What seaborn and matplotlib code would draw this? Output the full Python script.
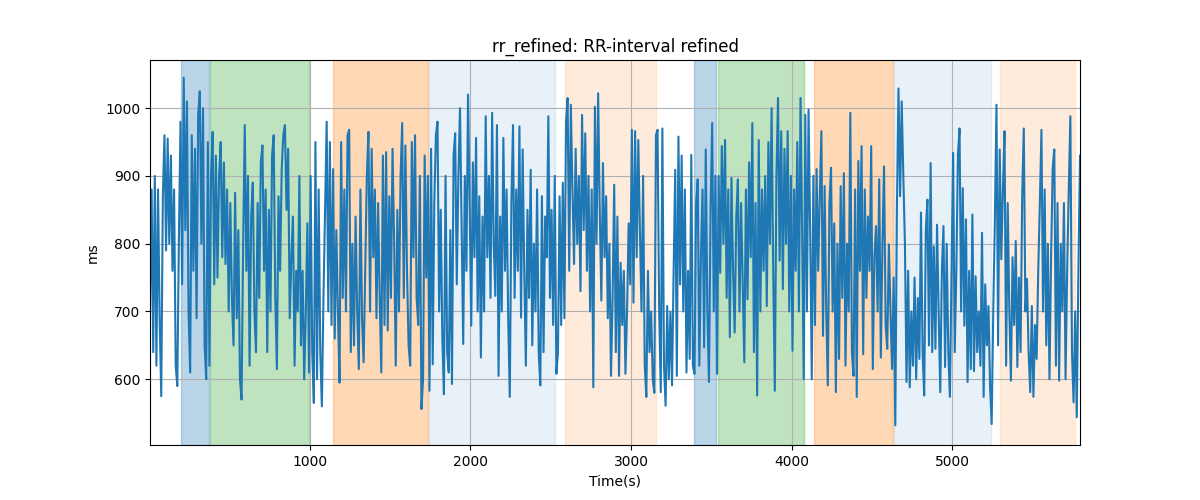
import numpy as np
import pandas as pd
import matplotlib
matplotlib.use('Agg')
import matplotlib.pyplot as plt
import seaborn as sns

rr_a = [700, 880, 640, 900, 620, 880, 690, 575, 870, 960, 790, 955, 800, 930, 760, 880, 620, 590, 810]
rr_b = [980, 740, 1045, 820, 1010, 700, 610, 960, 760, 940, 690, 990, 1025, 800, 1000, 650, 600, 950, 620]
rr_c = [900, 965, 740, 930, 750, 900, 950, 780, 920, 770, 880, 700, 860, 720, 650, 875, 690, 820, 600, 570,
        800, 975, 760, 900, 620, 840, 890, 700, 640, 860, 720, 920, 945, 760, 880, 640, 850, 700, 930, 960,
        720, 615, 870, 760, 910]
rr_d = [960, 975, 850, 940, 690, 780, 840, 620, 760, 700, 900, 650, 760, 600, 700, 830, 610]
rr_e = [900, 640, 565, 950, 600, 880, 640, 560, 720, 850, 980, 700, 950, 680]
rr_f = [910, 660, 820, 700, 595, 950, 720, 880, 700, 960, 968, 640, 800, 650, 840, 700, 615, 880, 690, 625,
        760, 900, 965, 700, 940, 780, 880, 690, 860, 720, 610, 930, 680, 935, 672, 870, 720, 940, 800, 620,
        850, 700, 900, 978, 720, 945, 760, 650, 620, 950, 780, 960, 720]
rr_g = [680, 900, 556, 600, 930, 750, 900]
rr_h = [583, 940, 622, 860, 960, 980, 700, 850, 660, 578, 900, 640, 610, 820, 593, 930, 963, 740, 900, 1000,
        820, 652, 900, 760, 1020, 860, 679, 920, 780, 956, 700, 870, 632, 840, 700, 988, 780, 900, 720, 993,
        800, 723, 975, 605, 840, 700, 956, 760, 880, 690, 574, 860, 975, 720, 880, 760, 973, 691, 939, 760,
        620, 850, 720, 909, 650, 800, 700, 880, 640, 591, 870, 640, 840, 780, 988, 720, 850]
rr_i = [680, 900, 608, 640, 870, 680, 890, 690]
rr_j = [980, 1015, 760, 1005, 880, 770, 940, 800, 900, 730, 990, 820, 963, 760, 900, 700, 880, 588, 1002, 800,
        1022, 850, 716, 919, 780, 870, 690, 800, 605, 720, 887, 640, 840, 605, 772, 680, 760, 608, 700, 830,
        740, 968, 713, 966, 780, 953, 820, 700, 900, 622, 574, 760, 640, 700, 600, 580, 960]
rr_k = [968, 700, 581, 970, 620, 561, 708, 600, 700, 591, 760, 909, 605, 958, 740, 930, 700, 880, 610, 760, 630]
rr_l = [931, 620, 608, 860, 895, 620, 780, 880, 647, 939, 700, 596, 850, 978, 700, 900, 608]
rr_m = [900, 757, 944, 800, 953, 720, 880, 662, 897, 760, 669, 840, 895, 700, 860, 740, 625, 880, 718, 920,
        780, 978, 640, 860, 576, 953, 700, 880, 760, 900, 708, 950, 800, 1000, 760, 583, 900, 1015, 775, 966,
        733, 940, 800, 966, 700, 900, 642, 880, 760, 950, 700, 1015, 820, 600]
rr_n = [990, 700, 998, 820, 600, 900, 680, 910, 760, 870]
rr_o = [966, 664, 885, 700, 591, 860, 912, 700, 830, 581, 800, 630, 885, 720, 904, 620, 800, 700, 993, 640,
        605, 880, 574, 922, 760, 944, 637, 880, 720, 840, 760, 944, 615, 780, 826, 700, 895, 632, 800, 914,
        680, 645, 799, 700, 615, 750, 532]
rr_p = [850, 1029, 870, 1010, 900, 800, 596, 760, 588, 700, 620, 750, 600, 720, 630, 846, 640, 576, 820, 865,
        650, 919, 640, 796, 645, 828, 700, 581, 760, 826, 618, 800, 640, 574, 760, 934, 640]
rr_q = [757, 931, 970, 700, 882, 679, 836, 596, 760, 615, 843, 612, 752, 640, 700, 620, 816, 574, 740, 650,
        708, 591, 534]
rr_r = [700, 836, 1005, 650]
rr_s = [939, 777, 880, 966, 620, 860, 700, 598, 780, 680, 804, 618, 750, 640, 870, 970, 700, 748, 640, 581,
        708, 574, 680, 630, 760, 860, 968, 700, 880, 650, 800, 600, 780, 912, 939, 620, 860, 598, 800, 700,
        860, 600, 760, 880, 988, 640, 566, 700, 544, 760, 930]

# markierte Phasen (Start, Ende, Farbe, Alpha)
span_start = [195, 381, 1144, 1744, 2588, 3394, 3544, 4138, 4638, 5294]
span_end = [370, 994, 1738, 2525, 3156, 3531, 4075, 4631, 5238, 5763]
span_color = ['tab:blue', 'tab:green', 'tab:orange', 'tab:blue', 'tab:orange',
              'tab:blue', 'tab:green', 'tab:orange', 'tab:blue', 'tab:orange']
span_alpha = [0.3, 0.3, 0.3, 0.1, 0.15, 0.3, 0.3, 0.3, 0.1, 0.15]

rr = (rr_a + rr_b + rr_c + rr_d + rr_e + rr_f + rr_g + rr_h + rr_i + rr_j +
      rr_k + rr_l + rr_m + rr_n + rr_o + rr_p + rr_q + rr_r + rr_s)
t = np.arange(5, 5800, 10)[:len(rr)]
df = pd.DataFrame({'t': t, 'rr': rr})

fig, ax = plt.subplots(figsize=(12, 5), dpi=100)
for s, e, c, a in zip(span_start, span_end, span_color, span_alpha):
    ax.axvspan(s, e, color=c, alpha=a)
sns.lineplot(data=df, x='t', y='rr', ax=ax, color='tab:blue', linewidth=1.5)
ax.set_xlim(df['t'].min(), df['t'].max())
ax.set_ylim(503, 1071)
ax.grid(True)
ax.set_title('rr_refined: RR-interval refined')
ax.set_xlabel('Time(s)')
ax.set_ylabel('ms')
plt.savefig('out.png')
plt.close()
